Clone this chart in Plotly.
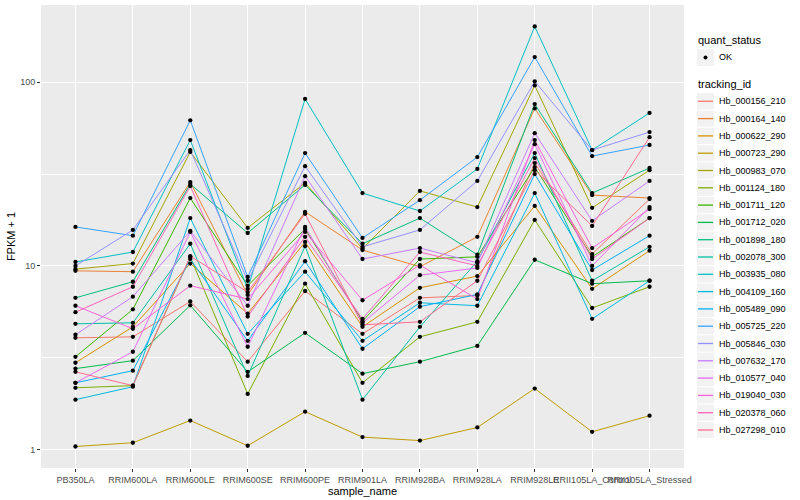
import plotly.graph_objects as go

samples = ["PB350LA", "RRIM600LA", "RRIM600LE", "RRIM600SE", "RRIM600PE",
           "RRIM901LA", "RRIM928BA", "RRIM928LA", "RRIM928LE",
           "RRII105LA_Control", "RRII105LA_Stressed"]

tracking_ids = ["Hb_000156_210", "Hb_000164_140", "Hb_000622_290", "Hb_000723_290",
                "Hb_000983_070", "Hb_001124_180", "Hb_001711_120", "Hb_001712_020",
                "Hb_001898_180", "Hb_002078_300", "Hb_003935_080", "Hb_004109_160",
                "Hb_005489_090", "Hb_005725_220", "Hb_005846_030", "Hb_007632_170",
                "Hb_010577_040", "Hb_019040_030", "Hb_020378_060", "Hb_027298_010"]

# FPKM + 1 per tracking id, in sample order
Hb_000156_210 = [4.06, 4.11, 6.4, 3.01, 7.3, 4.27, 6.7, 6.9, 36.3, 11.6, 23.1]
Hb_000164_140 = [9.4, 9.3, 28.6, 6.95, 19.7, 12.2, 9.9, 14.4, 72, 24.3, 23.4]
Hb_000622_290 = [2.97, 4.66, 10.3, 5.5, 13.5, 4.66, 7.6, 8.8, 21.2, 7.5, 12.1]
Hb_000723_290 = [1.04, 1.09, 1.44, 1.05, 1.61, 1.17, 1.12, 1.32, 2.15, 1.25, 1.53]
Hb_000983_070 = [9.6, 10.3, 41.7, 16.1, 28.3, 12.4, 25.6, 20.9, 96, 20.7, 33.2]
Hb_001124_180 = [2.17, 2.23, 11.2, 2.01, 8.0, 2.31, 4.11, 4.96, 17.8, 5.9, 7.7]
Hb_001711_120 = [3.2, 5.8, 23.4, 7.8, 15.9, 5.0, 10.9, 11.2, 34.5, 11.2, 18.2]
Hb_001712_020 = [2.76, 3.05, 6.1, 2.65, 4.32, 2.59, 3.01, 3.67, 10.8, 8.0, 8.3]
Hb_001898_180 = [6.7, 8.2, 27.9, 15.1, 27.6, 13.2, 18.2, 11.5, 76, 24.9, 34.1]
Hb_002078_300 = [4.84, 4.9, 13.2, 2.52, 12.8, 1.87, 4.66, 10.6, 41.1, 8.3, 12.7]
Hb_003935_080 = [10.5, 11.9, 48.4, 7.5, 81, 24.9, 19.9, 33.7, 201, 42.7, 68]
Hb_004109_160 = [1.87, 2.2, 18.2, 4.27, 9.3, 3.91, 6.3, 6.07, 24.9, 5.15, 8.3]
Hb_005489_090 = [2.31, 2.69, 10.9, 3.91, 10.6, 3.54, 6.0, 7.0, 31.6, 9.5, 14.6]
Hb_005725_220 = [16.3, 14.6, 62, 8.7, 41.1, 14.2, 22.8, 39.1, 137, 39.6, 45.5]
Hb_005846_030 = [10.0, 15.7, 42.7, 8.3, 34.9, 12.7, 15.7, 29.0, 101, 42.7, 53.5]
Hb_007632_170 = [4.22, 6.8, 15.5, 6.07, 30.8, 10.9, 12.5, 10.4, 52.8, 17.6, 29.0]
Hb_010577_040 = [2.31, 3.41, 15.3, 3.63, 16.3, 4.9, 8.9, 9.75, 46.0, 10.0, 20.9]
Hb_019040_030 = [6.07, 4.55, 7.8, 6.6, 15.3, 6.5, 10.1, 6.6, 48.4, 12.5, 20.4]
Hb_020378_060 = [5.6, 7.7, 27.2, 5.3, 14.4, 5.15, 11.9, 10.0, 38.6, 10.9, 18.2]
Hb_027298_010 = [2.65, 2.23, 11.3, 7.2, 19.2, 4.78, 4.96, 8.3, 33.2, 16.5, 50.2]

series = [Hb_000156_210, Hb_000164_140, Hb_000622_290, Hb_000723_290, Hb_000983_070,
          Hb_001124_180, Hb_001711_120, Hb_001712_020, Hb_001898_180, Hb_002078_300,
          Hb_003935_080, Hb_004109_160, Hb_005489_090, Hb_005725_220, Hb_005846_030,
          Hb_007632_170, Hb_010577_040, Hb_019040_030, Hb_020378_060, Hb_027298_010]

colors = ["#F8766D", "#EA8331", "#D89000", "#C09B00", "#A3A500", "#7CAE00", "#39B600",
          "#00BB4E", "#00BF7D", "#00C1A3", "#00BFC4", "#00BAE0", "#00B0F6", "#35A2FF",
          "#9590FF", "#C77CFF", "#E76BF3", "#FA62DB", "#FF62BC", "#FF6C91"]

FONT = "Liberation Sans, Arial, sans-serif"
W, H = 800, 500
L, R, T, B = 41, 116, 5, 32
PW, PH = W - L - R, H - T - B


def px(x):
    return (x - L) / PW


def py(y):
    return (H - B - y) / PH


fig = go.Figure()
for name, vals, col in zip(tracking_ids, series, colors):
    fig.add_trace(go.Scatter(x=samples, y=vals, mode="lines", name=name,
                             line=dict(color=col, width=1.0), showlegend=False))

all_x, all_y = [], []
for vals in series:
    all_x += samples
    all_y += vals
fig.add_trace(go.Scatter(x=all_x, y=all_y, mode="markers", name="OK",
                         marker=dict(color="black", size=4.3, symbol="circle"),
                         showlegend=False))

# ggplot-style legends drawn in paper coordinates
shapes, annots = [], []
KEY_X0, KEY_X1, TXT_X = 697, 714, 717
annots.append(dict(text="quant_status", x=px(696), y=py(40), xref="paper", yref="paper",
                   xanchor="left", yanchor="middle", showarrow=False,
                   font=dict(size=11, color="black")))
shapes.append(dict(type="rect", xref="paper", yref="paper", x0=px(KEY_X0), x1=px(KEY_X1),
                   y0=py(49), y1=py(66), fillcolor="#F2F2F2", line=dict(width=0), layer="below"))
shapes.append(dict(type="circle", xref="paper", yref="paper", x0=px(703.5), x1=px(707.5),
                   y0=py(55.5), y1=py(59.5), fillcolor="black", line=dict(width=0)))
annots.append(dict(text="OK", x=px(TXT_X), y=py(57.5), xref="paper", yref="paper",
                   xanchor="left", yanchor="middle", showarrow=False,
                   font=dict(size=9, color="black")))
annots.append(dict(text="tracking_id", x=px(696), y=py(84), xref="paper", yref="paper",
                   xanchor="left", yanchor="middle", showarrow=False,
                   font=dict(size=11, color="black")))
STEP = 17.3
for i, (name, col) in enumerate(zip(tracking_ids, colors)):
    cy = 101.3 + i * STEP
    shapes.append(dict(type="rect", xref="paper", yref="paper", x0=px(KEY_X0), x1=px(KEY_X1),
                       y0=py(cy - 8.1), y1=py(cy + 8.1), fillcolor="#F2F2F2",
                       line=dict(width=0), layer="below"))
    shapes.append(dict(type="line", xref="paper", yref="paper", x0=px(KEY_X0 + 1), x1=px(KEY_X1 - 1),
                       y0=py(cy), y1=py(cy), line=dict(color=col, width=1.3)))
    annots.append(dict(text=name, x=px(TXT_X), y=py(cy), xref="paper", yref="paper",
                       xanchor="left", yanchor="middle", showarrow=False,
                       font=dict(size=9, color="black")))

fig.update_layout(
    width=W, height=H,
    margin=dict(l=L, r=R, t=T, b=B, autoexpand=False),
    paper_bgcolor="white", plot_bgcolor="#EBEBEB",
    font=dict(family=FONT, size=9, color="#4D4D4D"),
    showlegend=False,
    shapes=shapes, annotations=annots,
    xaxis=dict(type="category", range=[-0.6, 10.6], tickangle=0, automargin=False,
               showgrid=True, gridcolor="white", gridwidth=1.1,
               ticks="outside", ticklen=3, tickcolor="#333333",
               tickfont=dict(size=9, color="#4D4D4D"), zeroline=False,
               title=dict(text="sample_name", font=dict(size=11, color="black"), standoff=1)),
    yaxis=dict(type="log", range=[-0.1, 2.42], tickvals=[1, 10, 100], automargin=False,
               ticktext=["1", "10", "100"],
               showgrid=True, gridcolor="white", gridwidth=1.1,
               minor=dict(tickvals=[3.1623, 31.623], showgrid=True,
                          gridcolor="white", gridwidth=0.5, ticklen=0),
               ticks="outside", ticklen=3, tickcolor="#333333",
               tickfont=dict(size=9, color="#4D4D4D"), zeroline=False,
               title=dict(text="FPKM + 1", font=dict(size=11, color="black"), standoff=2)),
)

fig.write_html("out.html", config={"displayModeBar": False},
               post_script="document.body.style.margin='0px';document.body.style.overflow='hidden';")
